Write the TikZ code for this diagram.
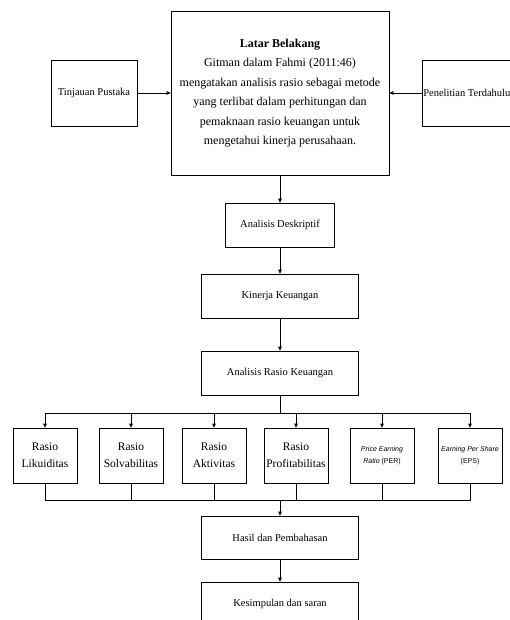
\documentclass[tikz,border=0pt]{standalone}
\usepackage{fontspec}
\setmainfont{Liberation Serif}
\newfontfamily\arialf{Liberation Sans}
\usetikzlibrary{arrows.meta}

\begin{document}
\begin{tikzpicture}[x=1pt,y=-1pt,
		box/.style={draw,line width=0.6pt,align=center,inner sep=1pt,font=\fontsize{10.5}{12}\selectfont},
		rasiobox/.style={box,minimum width=64pt,minimum height=55pt,font=\fontsize{11.5}{17}\selectfont},
		arr/.style={line width=0.6pt,-{Triangle[length=4pt,width=3.5pt]}},
		ln/.style={line width=0.6pt}]
				\path[use as bounding box,clip] (0,0) rectangle (510,620);
				% atas
				\node[box,minimum width=218pt,minimum height=164pt,font=\fontsize{12}{19.5}\selectfont] (latar) at (280,93)
					{\textbf{Latar Belakang}\\Gitman dalam Fahmi (2011:46)\\mengatakan analisis rasio sebagai metode\\yang terlibat dalam perhitungan dan\\pemaknaan rasio keuangan untuk\\mengetahui kinerja perusahaan.};
				\node[box,minimum width=86pt,minimum height=66pt] (tinjauan) at (94,93) {Tinjauan Pustaka};
				\node[box,anchor=west,minimum height=66pt] (penelitian) at (422,93) {Penelitian Terdahulu};
				\draw[arr] (tinjauan) -- (latar);
				\draw[arr] (penelitian) -- (latar);
				% tengah
				\node[box,minimum width=109pt,minimum height=44pt] (deskriptif) at (280,225) {Analisis Deskriptif};
				\node[box,minimum width=157pt,minimum height=44pt] (kinerja) at (280,296) {Kinerja Keuangan};
				\node[box,minimum width=157pt,minimum height=44pt] (ark) at (280,373) {Analisis Rasio Keuangan};
				\draw[arr] (latar) -- (deskriptif);
				\draw[arr] (deskriptif) -- (kinerja);
				\draw[arr] (kinerja) -- (ark);
				% rasio
				\node[rasiobox] (r1) at (45,455.5) {Rasio\\Likuiditas};
				\node[rasiobox] (r2) at (131,455.5) {Rasio\\Solvabilitas};
				\node[rasiobox] (r3) at (214,455.5) {Rasio\\Aktivitas};
				\node[rasiobox] (r4) at (296,455.5) {Rasio\\Profitabilitas};
				\node[rasiobox,font=\arialf\fontsize{7}{12}\selectfont] (r5) at (382,455.5) {\itshape Price Earning\\\itshape Ratio \upshape(PER)};
				\node[rasiobox,font=\arialf\fontsize{7}{12}\selectfont] (r6) at (470,455.5) {\itshape Earning Per Share\\(EPS)};
				\coordinate (busA) at (280,413);
				\coordinate (busB) at (280,500);
				\draw[ln] (ark) -- (busA);
				\foreach \r in {r1,r2,r3,r4,r5,r6}{
					\draw[arr] (busA) -| (\r.north);
					\draw[ln] (\r.south) |- (busB);
				}
				% bawah
				\node[box,minimum width=157pt,minimum height=43pt] (hasil) at (280,537.5) {Hasil dan Pembahasan};
				\node[box,minimum width=157pt,minimum height=44pt] (kesimpulan) at (280,604) {Kesimpulan dan saran};
				\draw[arr] (busB) -- (hasil);
				\draw[arr] (hasil) -- (kesimpulan);
			\end{tikzpicture}
\end{document}
